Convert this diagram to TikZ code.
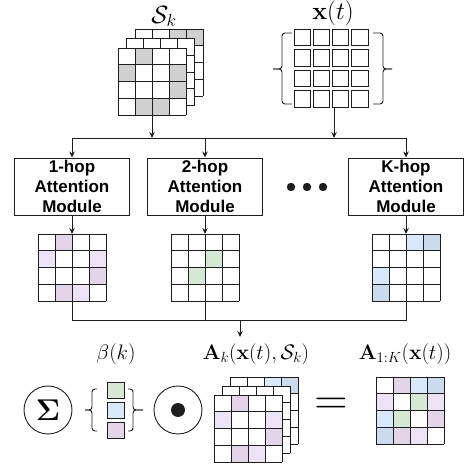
\RequirePackage{fix-cm}
\documentclass[tikz,border=0pt]{standalone}
\usepackage[no-math]{fontspec}
\usepackage{amsmath}
\newfontfamily\modfont{Liberation Sans}
\usetikzlibrary{arrows.meta}
\definecolor{gcell}{RGB}{208,208,208}
\definecolor{pd}{RGB}{225,213,231}
\definecolor{pl}{RGB}{238,226,247}
\definecolor{gr}{RGB}{213,232,212}
\definecolor{bl}{RGB}{218,232,252}
\definecolor{bd}{RGB}{204,218,238}
\definecolor{lc}{RGB}{30,30,30}
\tikzset{
  conn/.style={line width=0.9pt, draw=lc},
  arr/.style={conn, -{Stealth[length=6pt,width=5.5pt]}},
  gridline/.style={line width=0.9pt, draw=lc},
  modbox/.style={draw=lc, line width=0.9pt, minimum width=115pt, minimum height=57pt, align=center, inner sep=0pt,
    font=\modfont\bfseries\fontsize{17}{20}\selectfont},
  gridnode/.style={minimum width=68pt, minimum height=67pt, inner sep=0pt, outer sep=0pt, anchor=north west, fill=white},
  bigmath/.style={font=\fontsize{25}{30}\selectfont, inner sep=0pt},
  midmath/.style={font=\fontsize{21}{24}\selectfont},
  opcircle/.style={circle, draw=lc, line width=0.9pt, minimum size=48pt, inner sep=0pt},
  bracepath/.style={line width=0.9pt, draw=lc, rounded corners=3pt},
  xcell/.style={draw=lc, line width=0.9pt, fill=white}
}
\newcommand{\hopgrid}[4]{%
  \node[gridnode] (#1) at (#2,#3) {};
  \foreach \cc/\rr/\ff in {#4} {\fill[\ff] ({#2+\cc*17},{#3+\rr*16.75}) rectangle ++(17,16.75);}
  \foreach \i in {0,...,4} {
    \draw[gridline] ({#2+\i*17},#3) -- ++(0,67);
    \draw[gridline] (#2,{#3+\i*16.75}) -- ++(68,0);
  }%
}
\begin{document}
\begin{tikzpicture}[x=1pt,y=-1pt]
\useasboundingbox (0,0) rectangle (467,465);

% ---- S_k stack
\hopgrid{skc}{135}{29}{2/0/gcell,3/0/gcell}
\hopgrid{skb}{126.5}{38.5}{0/0/white}
\hopgrid{sk}{118}{48}{1/0/gcell,0/1/gcell,3/1/gcell,3/2/gcell,1/3/gcell,2/3/gcell}
\node[bigmath] (sklabel) at (164,16.5) {$\mathcal{S}_k$};

% ---- x(t)
\node[minimum width=74pt, minimum height=78pt, inner sep=0pt, anchor=north west] (xt) at (294,29) {};
\foreach \c in {0,...,3} {
  \foreach \r in {0,...,3} {
    \draw[xcell] ({294+19.2*\c},{29+20.5*\r}) rectangle ++(16.5,16.5);
  }
}
\draw[bracepath] (292,33) -- (282,33) -- (282,69) -- (273,69);
\draw[bracepath] (292,104) -- (282,104) -- (282,69) -- (273,69);
\draw[bracepath] (373,33) -- (383,33) -- (383,69) -- (392,69);
\draw[bracepath] (373,104) -- (383,104) -- (383,69) -- (392,69);
\node[bigmath] (xtlabel) at (333,13.5) {$\mathbf{x}(t)$};
\coordinate (xtout) at (334,108);

% ---- top bus
\coordinate (bt1) at (72,138);
\coordinate (bt2) at (205,138);
\coordinate (btK) at (406,138);
\draw[conn] (bt1) -- (btK);
\draw[arr] (sk.south) -- (sk.south |- bt1);
\draw[arr] (xtout) -- (xtout |- bt1);

% ---- modules
\node[modbox] (m1) at (72,186.5) {1-hop\\Attention\\Module};
\node[modbox] (m2) at (205,186.5) {2-hop\\Attention\\Module};
\node[modbox] (mK) at (406,186.5) {K-hop\\Attention\\Module};
\draw[arr] (bt1) -- (m1.north);
\draw[arr] (bt2) -- (m2.north);
\draw[arr] (btK) -- (mK.north);
\fill[lc] (291,187) circle (4.2) (307,187) circle (4.2) (323,187) circle (4.2);

% ---- hop grids
\hopgrid{g1}{38}{234}{1/0/pd,0/1/pl,3/1/pl,3/2/pd,1/3/pd,2/3/pl}
\hopgrid{g2}{171}{234}{2/1/gr,1/2/gr}
\hopgrid{gK}{372}{234}{2/0/bl,3/0/bd,0/2/bl,0/3/bd}
\draw[arr] (m1.south) -- (g1.north);
\draw[arr] (m2.south) -- (g2.north);
\draw[arr] (mK.south) -- (gK.north);

% ---- bottom bus
\coordinate (bb1) at (72,320);
\coordinate (bbK) at (406,320);
\coordinate (bbm) at (240,320);
\coordinate (akin) at (240,337);
\draw[conn] (g1.south) -- (g1.south |- bb1) -- (bbK) -- (gK.south);
\draw[conn] (g2.south) -- (g2.south |- bb1);
\draw[arr] (bbm) -- (akin);

% ---- bottom row
\node[opcircle, font=\fontsize{30}{30}\selectfont] (sum) at (48,410) {$\mathbf{\Sigma}$};
\draw[xcell, fill=gr] (107.5,382) rectangle ++(17,16);
\draw[xcell, fill=bl] (107.5,402) rectangle ++(17,16);
\draw[xcell, fill=pd] (107.5,422) rectangle ++(17,16);
\node (beta) at (116,410) {};
\draw[bracepath] (97,389) -- (92,389) -- (92,410) -- (85,410);
\draw[bracepath] (97,431) -- (92,431) -- (92,410) -- (85,410);
\draw[bracepath] (128,389) -- (133,389) -- (133,410) -- (143,410);
\draw[bracepath] (128,431) -- (133,431) -- (133,410) -- (143,410);
\node[midmath] (betalabel) at (116,354) {$\beta(k)$};

\node[opcircle] (odot) at (178,410) {};
\fill[lc] (odot.center) circle (7);

\hopgrid{akc}{230}{377}{2/0/bl,3/0/bd}
\hopgrid{akb}{222}{386}{0/0/white}
\hopgrid{ak}{214}{395}{1/0/pd,0/1/pl,3/1/pl,3/2/pd,1/3/pd,2/3/pl}
\node[midmath] (aklabel) at (256,354) {$\mathbf{A}_k(\mathbf{x}(t),\mathcal{S}_k)$};

\node[font=\fontsize{46}{46}\selectfont] (eq) at (331,406) {$=$};

\hopgrid{a1k}{376}{377}{1/0/pd,2/0/bl,3/0/bd,0/1/pl,2/1/gr,3/1/pl,0/2/bl,1/2/gr,3/2/pd,0/3/bd,1/3/pd,2/3/pl}
\node[midmath] (a1klabel) at (405,354) {$\mathbf{A}_{1:K}(\mathbf{x}(t))$};
\end{tikzpicture}
\end{document}
